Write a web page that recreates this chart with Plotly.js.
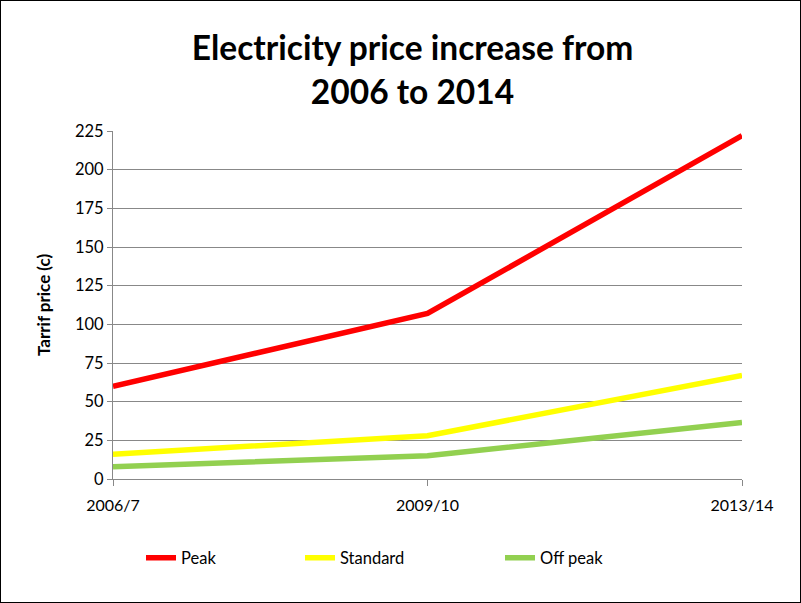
<!DOCTYPE html>
<html>
<head>
<meta charset="utf-8">
<script src="https://cdn.plot.ly/plotly-3.0.1.min.js"></script>
<style>
  html, body { margin: 0; padding: 0; background: #fff; }
  #wrap { position: relative; width: 801px; height: 603px; }
  #chart { width: 801px; height: 603px; }
  #frame { position: absolute; left: 0; top: 0; width: 799px; height: 601px; border: 1px solid #000; pointer-events: none; }
</style>
</head>
<body>
<div id="wrap"><div id="chart"></div><div id="frame"></div></div>
<script>
const categories = ["2006/7", "2009/10", "2013/14"];
const peak = [60, 107, 222];
const standard = [16, 28, 67];
const offPeak = [8, 15, 36.5];
const seriesNames = ["Peak", "Standard", "Off peak"];
const yTicks = [0, 25, 50, 75, 100, 125, 150, 175, 200, 225];

const FONT = "Lato, 'Noto Sans', 'Liberation Sans', sans-serif";
const colors = ["#ff0000", "#ffff00", "#92d050"];
const values = [peak, standard, offPeak];
const legendIds = ["legend", "legend2", "legend3"];

const traces = values.map((v, i) => ({
  x: categories,
  y: v,
  name: seriesNames[i],
  type: "scatter",
  mode: "lines",
  line: { color: colors[i], width: 5.5 },
  legend: legendIds[i],
  hoverinfo: "skip"
}));

const legendX = [141, 300, 500];
const legendBase = {
  orientation: "h",
  xref: "container", yref: "container",
  xanchor: "left", yanchor: "middle",
  y: 45 / 603,
  font: { family: FONT, size: 16.5, color: "#000" },
  bgcolor: "rgba(0,0,0,0)",
  itemwidth: 30,
  tracegroupgap: 0
};

const layout = {
  width: 801, height: 603,
  margin: { l: 113, r: 59, t: 131, b: 124 },
  paper_bgcolor: "#fff",
  plot_bgcolor: "#fff",
  font: { family: FONT, size: 16, color: "#000" },
  title: {
    text: "<b>Electricity price increase from<br>2006 to 2014</b>",
    font: { family: FONT, size: 33.5, color: "#000" },
    x: 0.515, xanchor: "center",
    y: 0.900, yanchor: "middle"
  },
  xaxis: {
    type: "category",
    range: [0, 2],
    showgrid: false,
    showline: true, linecolor: "#888", linewidth: 1,
    ticks: "outside", ticklen: 6, tickcolor: "#888",
    ticklabelstandoff: 6,
    tickfont: { family: FONT, size: 16 },
    zeroline: false,
    fixedrange: true
  },
  yaxis: {
    range: [0, 225],
    tickvals: yTicks,
    showgrid: true, gridcolor: "#888", gridwidth: 1,
    showline: true, linecolor: "#888", linewidth: 1,
    ticks: "outside", ticklen: 5, tickcolor: "#888",
    tickfont: { family: FONT, size: 16.5 },
    zeroline: false,
    title: { text: "<b>Tarrif price (c)</b>", font: { family: FONT, size: 17 }, standoff: 20 },
    fixedrange: true
  },
  showlegend: true,
  legend: Object.assign({}, legendBase, { x: legendX[0] / 801 }),
  legend2: Object.assign({}, legendBase, { x: legendX[1] / 801 }),
  legend3: Object.assign({}, legendBase, { x: legendX[2] / 801 })
};

Plotly.newPlot("chart", traces, layout, { displayModeBar: false, staticPlot: true });
</script>
</body>
</html>
